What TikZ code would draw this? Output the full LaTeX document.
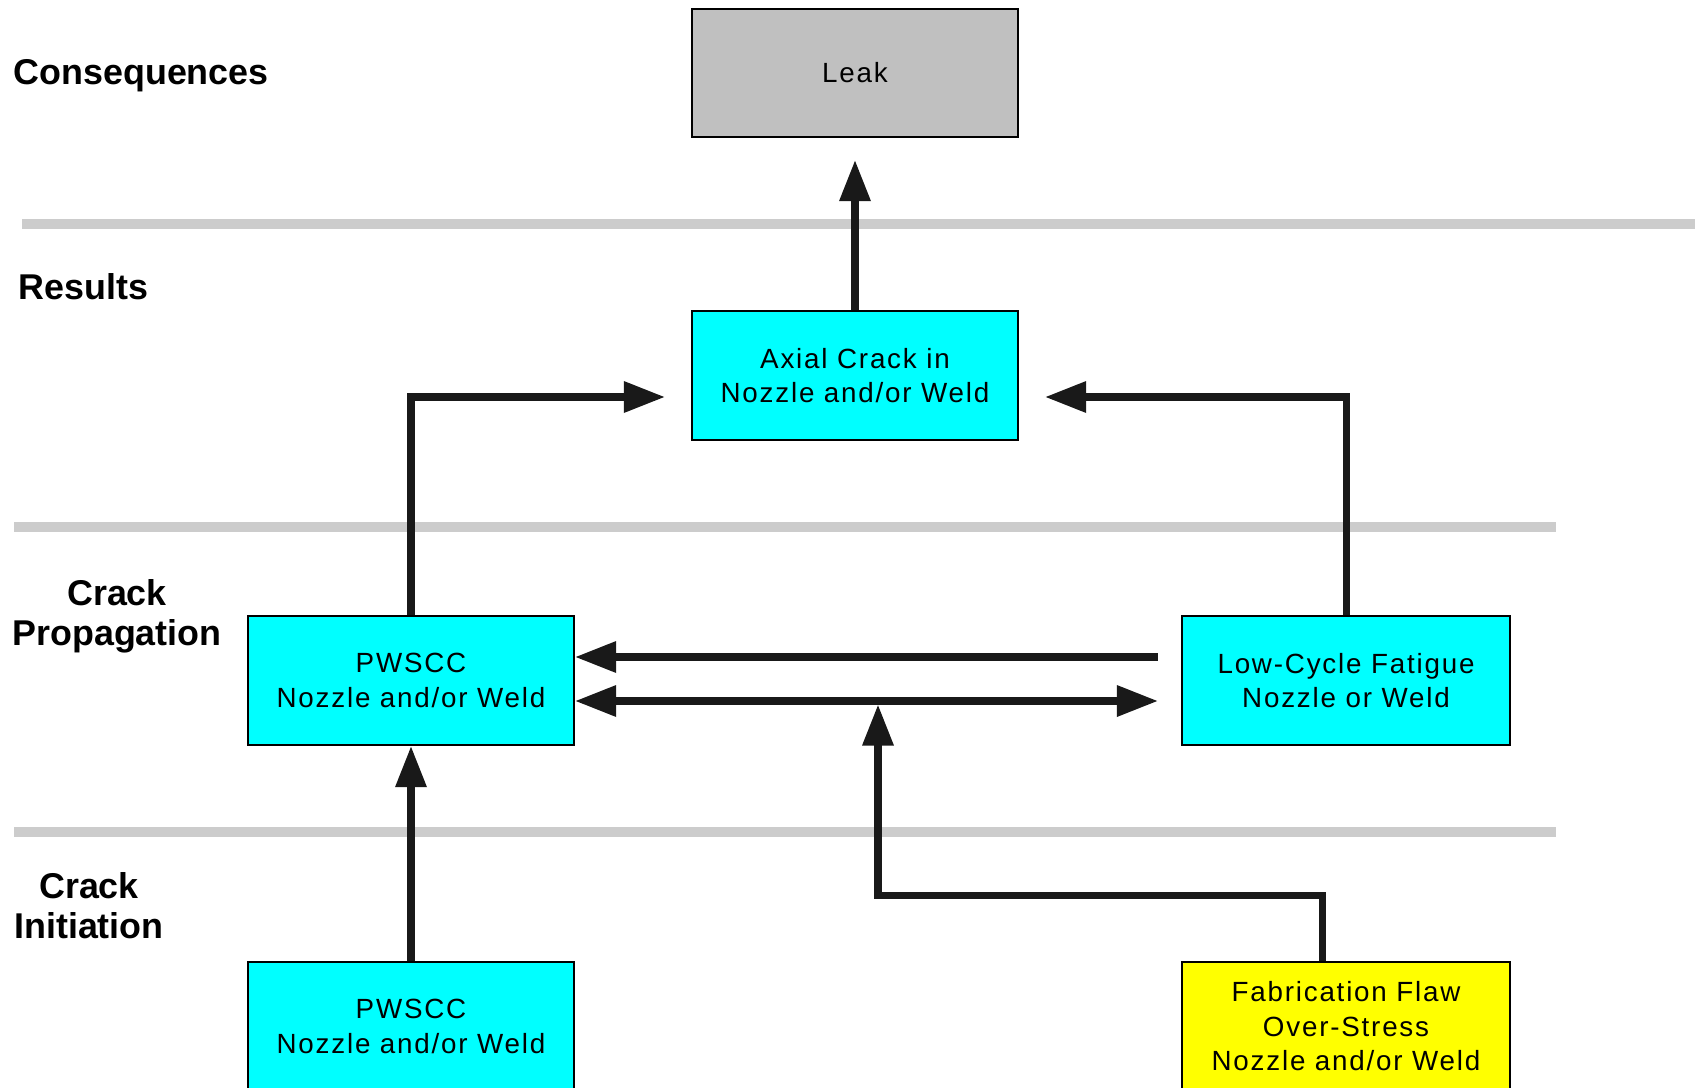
\documentclass[tikz,border=0pt]{standalone}
\usepackage{fontspec}
\setmainfont{Liberation Sans}
\newfontfamily\boxfont[LetterSpace=6.5]{Liberation Sans}
\usetikzlibrary{arrows.meta}

\definecolor{leakgray}{RGB}{192,192,192}
\definecolor{boxcyan}{RGB}{0,255,255}
\definecolor{boxyellow}{RGB}{255,255,0}
\definecolor{bandgray}{RGB}{204,204,204}

\begin{document}
\begin{tikzpicture}[
  box/.style={draw=black, line width=0.6pt, minimum width=3.26cm, minimum height=1.29cm,
    inner sep=0pt, align=center, font=\boxfont\fontsize{7.9}{9.8}\selectfont},
  level/.style={inner sep=0pt, align=center, font=\bfseries\fontsize{10.2}{11.4}\selectfont},
  band/.style={line width=2.85pt, bandgray},
  arr/.style={line width=2pt, black!90, -{Triangle[length=11.7pt,width=8.5pt]}},
  arrboth/.style={line width=2pt, black!90,
    {Triangle[length=11.7pt,width=8.5pt]}-{Triangle[length=11.7pt,width=8.5pt]}},
]
\useasboundingbox (0,0) rectangle (17,10.87);

  % level separators
  \draw[band] (0.22,8.63) -- (16.95,8.63);
  \draw[band] (0.14,5.60) -- (15.56,5.60);
  \draw[band] (0.14,2.55) -- (15.56,2.55);

  % level names
  \node[level, anchor=west] (conseq) at (0.13,10.11) {Consequences};
  \node[level, anchor=west] (results) at (0.18,8.00) {Results};
  \node[level] (prop) at (1.17,4.71) {Crack\\Propagation};
  \node[level] (init) at (0.89,1.815) {Crack\\Initiation};

  % boxes
  \node[box, fill=leakgray, minimum height=1.28cm] (leak) at (8.55,10.14) {Leak};
  \node[box, fill=boxcyan] (axial) at (8.55,7.115) {Axial Crack in\\Nozzle and/or Weld};
  \node[box, fill=boxcyan] (pwprop) at (4.11,4.065) {PWSCC\\Nozzle and/or Weld};
  \node[box, fill=boxcyan, minimum width=3.28cm] (lcf) at (13.46,4.065) {Low-Cycle Fatigue\\Nozzle or Weld};
  \node[box, fill=boxcyan] (pwinit) at (4.11,0.605) {PWSCC\\Nozzle and/or Weld};
  \node[box, fill=boxyellow, minimum width=3.28cm] (fab) at (13.46,0.605) {Fabrication Flaw\\Over-Stress\\Nozzle and/or Weld};

  \coordinate (merge) at (8.78,3.825);

  % connectors
  \draw[arr, shorten >=0.22cm] (axial) -- (leak);
  \draw[arr, shorten >=0.26cm] (pwprop.north) |- ([yshift=-2.15mm]axial.west);
  \draw[arr, shorten >=0.26cm] (lcf.north) |- ([yshift=-2.15mm]axial.east);
  \draw[arr, shorten <=0.23cm] ([yshift=2.35mm]lcf.west) -- ([yshift=2.35mm]pwprop.east);
  \draw[arrboth, shorten >=0.23cm] ([yshift=-2.05mm]pwprop.east) -- ([yshift=-2.05mm]lcf.west);
  \draw[arr] ([xshift=-2.4mm]fab.north) -- ++(0,0.65) -| (merge);
  \draw[arr] (pwinit) -- (pwprop);
\end{tikzpicture}
\end{document}
